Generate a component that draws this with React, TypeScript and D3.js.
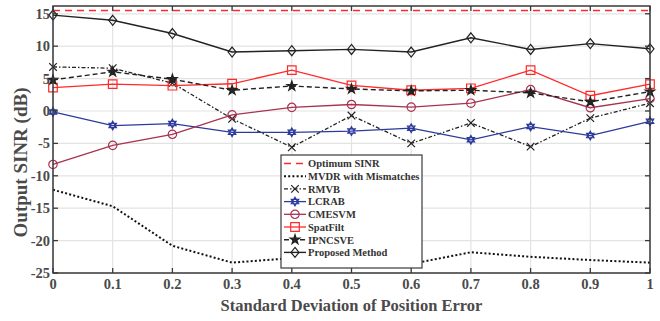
import React from "react";
import * as d3 from "d3";

const xs = [0, 0.1, 0.2, 0.3, 0.4, 0.5, 0.6, 0.7, 0.8, 0.9, 1];
const optimum = [15.5, 15.5, 15.5, 15.5, 15.5, 15.5, 15.5, 15.5, 15.5, 15.5, 15.5];
const mvdr = [-12.15, -14.7, -20.8, -23.4, -22.7, -23.0, -23.6, -21.8, -22.5, -23.0, -23.4];
const rmvb = [6.8, 6.6, 4.3, -1.2, -5.6, -0.7, -5.0, -1.85, -5.5, -1.1, 1.2];
const lcrab = [-0.15, -2.25, -1.95, -3.3, -3.3, -3.1, -2.65, -4.45, -2.4, -3.8, -1.6];
const cmesvm = [-8.25, -5.3, -3.6, -0.6, 0.55, 1.0, 0.6, 1.2, 3.3, 0.5, 1.9];
const spatfilt = [3.6, 4.15, 3.9, 4.2, 6.3, 3.95, 3.2, 3.5, 6.3, 2.35, 4.15];
const ipncsve = [4.8, 6.05, 4.9, 3.2, 3.85, 3.4, 3.1, 3.2, 2.8, 1.4, 3.0];
const proposed = [14.8, 14.0, 11.95, 9.1, 9.3, 9.5, 9.1, 11.3, 9.5, 10.4, 9.6];

const xTicks = [0, 0.1, 0.2, 0.3, 0.4, 0.5, 0.6, 0.7, 0.8, 0.9, 1];
const xTickLabels = ["0", "0.1", "0.2", "0.3", "0.4", "0.5", "0.6", "0.7", "0.8", "0.9", "1"];
const yTicks = [-25, -20, -15, -10, -5, 0, 5, 10, 15];

type Marker = "none" | "x" | "hex" | "circle" | "square" | "star" | "diamond";
interface Series {
  name: string;
  values: number[];
  color: string;
  dash: string;
  marker: Marker;
  fill: string;
  width: number;
}

const series: Series[] = [
  { name: "Optimum SINR", values: optimum, color: "#ff2a2a", dash: "7,5", marker: "none", fill: "none", width: 1.6 },
  { name: "MVDR with Mismatches", values: mvdr, color: "#111", dash: "2,2.2", marker: "none", fill: "none", width: 2 },
  { name: "RMVB", values: rmvb, color: "#222", dash: "4,2,1.5,2", marker: "x", fill: "none", width: 1.3 },
  { name: "LCRAB", values: lcrab, color: "#2c3a9c", dash: "", marker: "hex", fill: "none", width: 1.3 },
  { name: "CMESVM", values: cmesvm, color: "#a83250", dash: "", marker: "circle", fill: "none", width: 1.3 },
  { name: "SpatFilt", values: spatfilt, color: "#ff2a2a", dash: "", marker: "square", fill: "none", width: 1.3 },
  { name: "IPNCSVE", values: ipncsve, color: "#222", dash: "5,3", marker: "star", fill: "#222", width: 1.4 },
  { name: "Proposed Method", values: proposed, color: "#222", dash: "", marker: "diamond", fill: "none", width: 1.4 },
];

const W = 660, H = 321;
const L = 53, R = 650, T = 6, B = 273;

function markerPath(m: Marker): string {
  const p = d3.path();
  if (m === "x") {
    const s = 3.8;
    p.moveTo(-s, -s); p.lineTo(s, s); p.moveTo(-s, s); p.lineTo(s, -s);
  } else if (m === "square") {
    const s = 4.3;
    p.rect(-s, -s, 2 * s, 2 * s);
  } else if (m === "circle") {
    p.arc(0, 0, 4.2, 0, Math.PI * 2);
  } else if (m === "diamond") {
    const s = 5;
    p.moveTo(0, -s); p.lineTo(s * 0.8, 0); p.lineTo(0, s); p.lineTo(-s * 0.8, 0); p.closePath();
  } else if (m === "hex") {
    const r = 4.3;
    for (let k = 0; k < 2; k++) {
      for (let i = 0; i < 3; i++) {
        const a = -Math.PI / 2 + k * Math.PI + (i * 2 * Math.PI) / 3;
        const px = r * Math.cos(a), py = r * Math.sin(a);
        if (i === 0) p.moveTo(px, py); else p.lineTo(px, py);
      }
      p.closePath();
    }
  } else if (m === "star") {
    return d3.symbol(d3.symbolStar, 28)() || "";
  }
  return p.toString();
}

export default function App() {
  const x = d3.scaleLinear().domain([0, 1]).range([L, R]);
  const y = d3.scaleLinear().domain([-25, 16.2]).range([B, T]);
  const line = d3.line<number>().x((_, i) => x(xs[i])).y((v) => y(v));
  const font = "'Liberation Serif', 'Times New Roman', serif";
  const axisColor = "#3a3a3a";
  const textColor = "#4a4a4a";

  const legX = 281, legY = 155, legW = 141, legH = 113;
  const rowH = 12.7;

  return (
    <svg width={W} height={H} style={{ position: "absolute", left: 0, top: 0, background: "#fff" }} fontFamily={font}>
      <rect x={0} y={0} width={W} height={H} fill="#fff" />
      {xTicks.map((t) => (
        <line key={"gx" + t} x1={x(t)} x2={x(t)} y1={T} y2={B} stroke="#e3e3e3" strokeWidth={1.2} />
      ))}
      {yTicks.map((t) => (
        <line key={"gy" + t} x1={L} x2={R} y1={y(t)} y2={y(t)} stroke="#e3e3e3" strokeWidth={1.2} />
      ))}
      {series.map((s) => (
        <g key={s.name}>
          <path d={line(s.values) || ""} fill="none" stroke={s.color} strokeWidth={s.width} strokeDasharray={s.dash} />
          {s.marker !== "none" &&
            s.values.map((v, i) => (
              <path key={i} d={markerPath(s.marker)} transform={`translate(${x(xs[i])},${y(v)})`} fill={s.fill} stroke={s.color} strokeWidth={1.2} />
            ))}
        </g>
      ))}
      <rect x={L} y={T} width={R - L} height={B - T} fill="none" stroke={axisColor} strokeWidth={1.5} />
      {xTicks.map((t) => (
        <g key={"tx" + t}>
          <line x1={x(t)} x2={x(t)} y1={B} y2={B - 5} stroke={axisColor} strokeWidth={1.3} />
          <line x1={x(t)} x2={x(t)} y1={T} y2={T + 5} stroke={axisColor} strokeWidth={1.3} />
        </g>
      ))}
      {yTicks.map((t) => (
        <g key={"ty" + t}>
          <line x1={L} x2={L + 5} y1={y(t)} y2={y(t)} stroke={axisColor} strokeWidth={1.3} />
          <line x1={R} x2={R - 5} y1={y(t)} y2={y(t)} stroke={axisColor} strokeWidth={1.3} />
        </g>
      ))}
      {xTicks.map((t, i) => (
        <text key={"lx" + t} x={x(t)} y={288.5} textAnchor="middle" fontSize={14.5} fontWeight="bold" fill={textColor}>
          {xTickLabels[i]}
        </text>
      ))}
      {yTicks.map((t) => (
        <text key={"ly" + t} x={L - 3} y={y(t) + 5} textAnchor="end" fontSize={14.5} fontWeight="bold" fill={textColor}>
          {t}
        </text>
      ))}
      <text x={(L + R) / 2} y={310.5} textAnchor="middle" fontSize={16.5} fontWeight="bold" fill={textColor}>
        Standard Deviation of Position Error
      </text>
      <text transform={`translate(26.5,162.5) rotate(-90)`} textAnchor="middle" fontSize={19} fontWeight="bold" fill={textColor}>
        Output SINR (dB)
      </text>
      <rect x={legX} y={legY} width={legW} height={legH} fill="#fff" stroke={axisColor} strokeWidth={1.2} />
      {series.map((s, i) => {
        const cy = legY + 8.5 + i * rowH;
        return (
          <g key={"leg" + s.name}>
            <line x1={legX + 3} x2={legX + 25} y1={cy} y2={cy} stroke={s.color} strokeWidth={s.width} strokeDasharray={s.dash} />
            {s.marker !== "none" && (
              <path d={markerPath(s.marker)} transform={`translate(${legX + 14},${cy})`} fill={s.fill} stroke={s.color} strokeWidth={1.2} />
            )}
            <text x={legX + 27} y={cy + 3.8} fontSize={10.5} fontWeight="bold" fill="#333">
              {s.name}
            </text>
          </g>
        );
      })}
    </svg>
  );
}
